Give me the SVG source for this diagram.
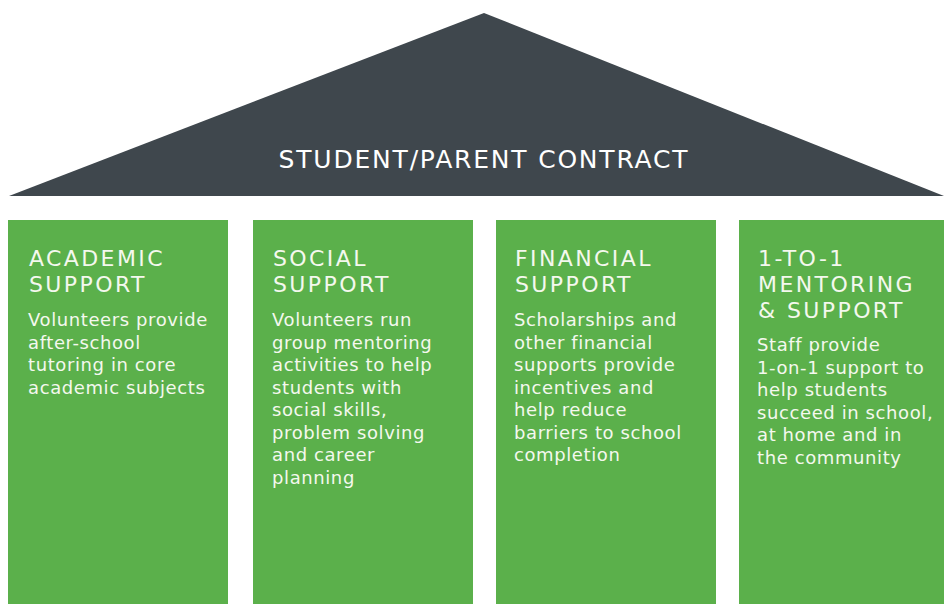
<svg xmlns="http://www.w3.org/2000/svg" width="944" height="604" viewBox="0 0 944 604">
<style>
.roof{fill:#3f474d}
.col{fill:#5bb04b}
.rt{font-family:"DejaVu Sans","Liberation Sans",sans-serif;font-size:25px;fill:#ffffff;letter-spacing:1.8px}
.h{font-family:"DejaVu Sans","Liberation Sans",sans-serif;font-size:22px;fill:#f4f8ee;letter-spacing:2.4px}
.b{font-family:"DejaVu Sans","Liberation Sans",sans-serif;font-size:18px;fill:#f4f8ee;letter-spacing:0.6px}
</style>
<rect width="944" height="604" fill="#ffffff"/>
<g id="roof">
<polygon class="roof" points="484,13 944,196 9,196"/>
<text class="rt" x="484" y="168" text-anchor="middle">STUDENT/PARENT CONTRACT</text>
</g>
<g id="academic">
<rect class="col" x="8" y="220" width="220" height="384"/>
<text class="h"><tspan x="29" y="266">ACADEMIC</tspan><tspan x="29" y="292">SUPPORT</tspan></text>
<text class="b"><tspan x="28" y="326">Volunteers provide</tspan><tspan x="28" y="348.5">after-school</tspan><tspan x="28" y="371">tutoring in core</tspan><tspan x="28" y="393.5">academic subjects</tspan></text>
</g>
<g id="social">
<rect class="col" x="253" y="220" width="220" height="384"/>
<text class="h"><tspan x="273" y="266">SOCIAL</tspan><tspan x="273" y="292">SUPPORT</tspan></text>
<text class="b"><tspan x="272" y="326">Volunteers run</tspan><tspan x="272" y="348.5">group mentoring</tspan><tspan x="272" y="371">activities to help</tspan><tspan x="272" y="393.5">students with</tspan><tspan x="272" y="416">social skills,</tspan><tspan x="272" y="438.5">problem solving</tspan><tspan x="272" y="461">and career</tspan><tspan x="272" y="483.5">planning</tspan></text>
</g>
<g id="financial">
<rect class="col" x="496" y="220" width="220" height="384"/>
<text class="h"><tspan x="515" y="266">FINANCIAL</tspan><tspan x="515" y="292">SUPPORT</tspan></text>
<text class="b"><tspan x="514" y="326">Scholarships and</tspan><tspan x="514" y="348.5">other financial</tspan><tspan x="514" y="371">supports provide</tspan><tspan x="514" y="393.5">incentives and</tspan><tspan x="514" y="416">help reduce</tspan><tspan x="514" y="438.5">barriers to school</tspan><tspan x="514" y="461">completion</tspan></text>
</g>
<g id="mentoring">
<rect class="col" x="739" y="220" width="205" height="384"/>
<text class="h"><tspan x="758" y="266">1-TO-1</tspan><tspan x="758" y="292">MENTORING</tspan><tspan x="758" y="318">&amp; SUPPORT</tspan></text>
<text class="b"><tspan x="757" y="351">Staff provide</tspan><tspan x="757" y="373.5">1-on-1 support to</tspan><tspan x="757" y="396">help students</tspan><tspan x="757" y="418.5">succeed in school,</tspan><tspan x="757" y="441">at home and in</tspan><tspan x="757" y="463.5">the community</tspan></text>
</g>
<g id="connectors"/>
</svg>
